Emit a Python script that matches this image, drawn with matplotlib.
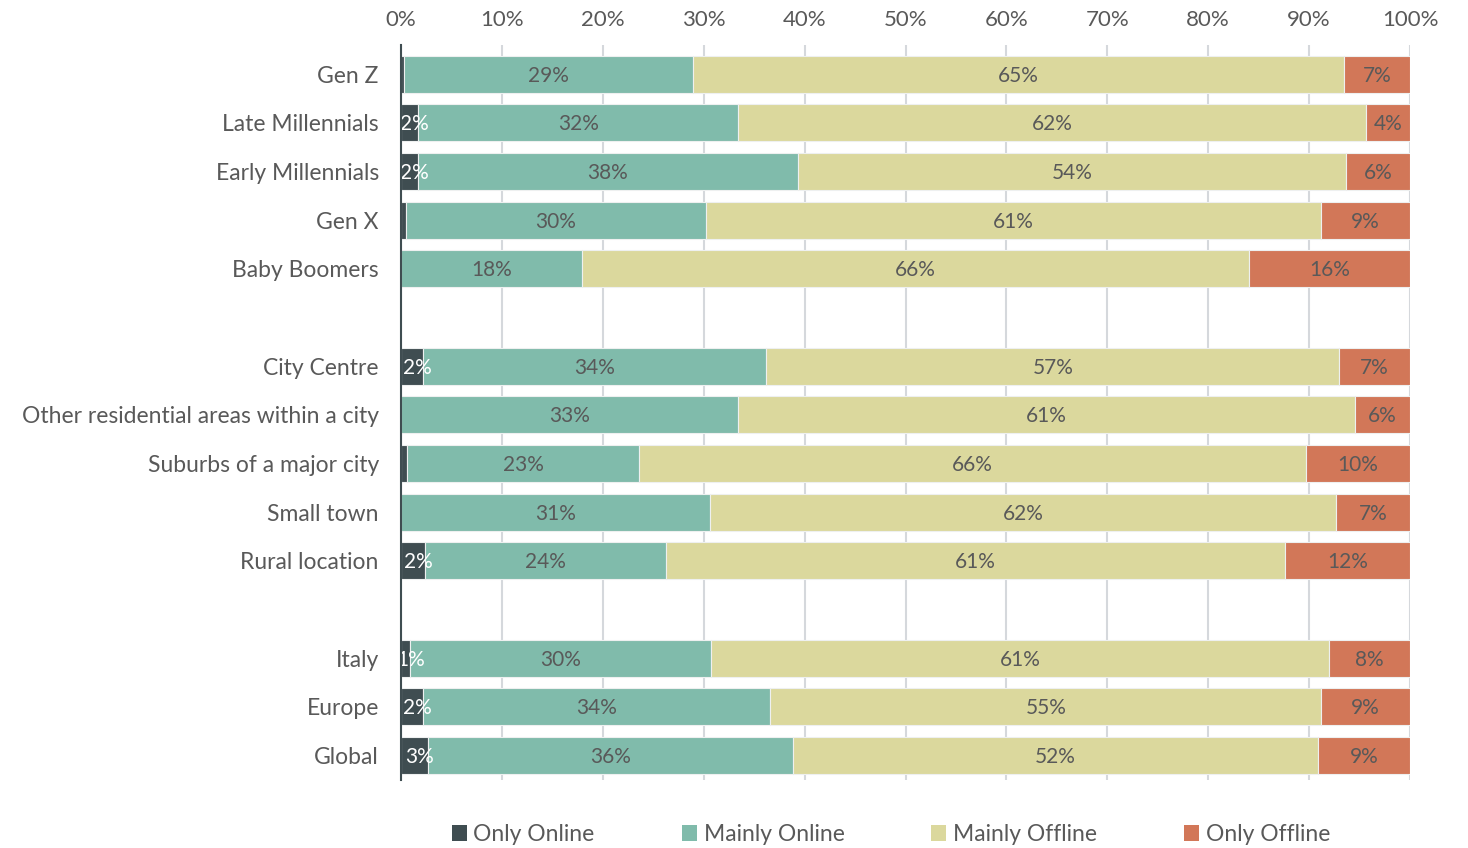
import numpy as np
import matplotlib.pyplot as plt
from matplotlib.patches import Patch

plt.rcParams['font.family'] = ['Lato', 'DejaVu Sans']

TEXT_COLOR = '#595959'
GRID_COLOR = '#d5d8dc'
colors = ['#3f4d51', '#80bbab', '#dbd89d', '#d27758']
series = ['Only Online', 'Mainly Online', 'Mainly Offline', 'Only Offline']

categories = [
    'Gen Z', 'Late Millennials', 'Early Millennials', 'Gen X', 'Baby Boomers',
    'City Centre', 'Other residential areas within a city', 'Suburbs of a major city',
    'Small town', 'Rural location',
    'Italy', 'Europe', 'Global',
]
# row slot for each category (blank slots separate the three groups)
slots = [0, 1, 2, 3, 4, 6, 7, 8, 9, 10, 12, 13, 14]

only_online = [0.3, 1.7, 1.7, 0.5, 0.0, 2.2, 0.0, 0.6, 0.0, 2.4, 0.9, 2.2, 2.7]
mainly_online = [28.6, 31.7, 37.6, 29.7, 17.9, 34.0, 33.4, 23.0, 30.6, 23.9, 29.8, 34.4, 36.1]
mainly_offline = [64.6, 62.2, 54.4, 61.0, 66.1, 56.8, 61.1, 66.1, 62.1, 61.3, 61.3, 54.6, 52.1]
only_offline = [6.5, 4.4, 6.3, 8.8, 16.0, 7.0, 5.5, 10.3, 7.3, 12.4, 8.0, 8.8, 9.1]

data = [only_online, mainly_online, mainly_offline, only_offline]
MIN_LABEL = 0.75  # slivers thinner than this stay unlabelled

fig = plt.figure(figsize=(14.68, 8.48), dpi=100)
ax = fig.add_axes([0.2732, 0.0802, 0.6873, 0.8668])

y = np.array(slots)
left = np.zeros(len(categories))
for k, (vals, col) in enumerate(zip(data, colors)):
    vals = np.array(vals)
    ax.barh(y, vals, left=left, height=0.76, color=col,
            edgecolor='#eef0f0', linewidth=0.8, zorder=3)
    for yi, l, v in zip(y, left, vals):
        if v < MIN_LABEL:
            continue
        pct = int(v + 0.5)
        tc = 'white' if k == 0 else TEXT_COLOR
        ax.text(l + v / 2 + (0.5 if k == 0 else 0), yi + 0.03, f'{pct}%', ha='center', va='center',
                fontsize=15, color=tc, zorder=4)
    left += vals

ax.set_xlim(0, 100)
ax.set_ylim(14.5, -0.6)
ax.set_yticks(slots)
ax.set_yticklabels(categories)
ax.set_xticks(np.arange(0, 101, 10))
ax.set_xticklabels([f'{t}%' for t in range(0, 101, 10)])
ax.xaxis.tick_top()
ax.tick_params(axis='x', length=0, pad=11, labelsize=16, colors=TEXT_COLOR)
ax.tick_params(axis='y', length=0, pad=16, labelsize=16.5, colors=TEXT_COLOR)
ax.grid(axis='x', color=GRID_COLOR, linewidth=1.5, zorder=0)
ax.set_axisbelow(True)
for s in ['top', 'right', 'bottom']:
    ax.spines[s].set_visible(False)
ax.spines['left'].set_color('#3f4d51')
ax.spines['left'].set_linewidth(1.5)
ax.spines['left'].set_zorder(5)

handles = [Patch(facecolor=c, edgecolor='none') for c in colors]
fig.legend(handles, series, loc='center', bbox_to_anchor=(0.607, 0.016), ncol=4,
           frameon=False, fontsize=16.5, labelcolor=TEXT_COLOR, handlelength=0.65,
           handleheight=0.65, handletextpad=0.3, columnspacing=3.8)

fig.savefig('out.png', dpi=100)
